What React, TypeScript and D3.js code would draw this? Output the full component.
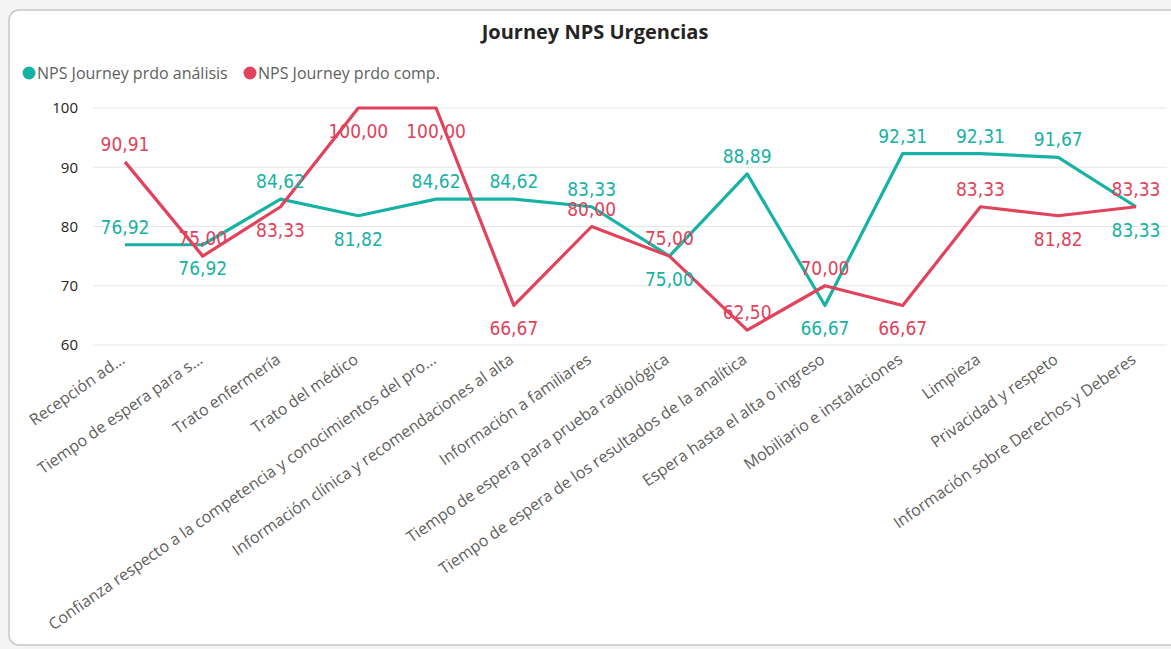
import React from 'react';
import * as d3 from 'd3';

// categories (x axis) as shown in the visual
const categories = [
  'Recepción ad...',
  'Tiempo de espera para s...',
  'Trato enfermería',
  'Trato del médico',
  'Confianza respecto a la competencia y conocimientos del pro...',
  'Información clínica y recomendaciones al alta',
  'Información a familiares',
  'Tiempo de espera para prueba radiológica',
  'Tiempo de espera de los resultados de la analítica',
  'Espera hasta el alta o ingreso',
  'Mobiliario e instalaciones',
  'Limpieza',
  'Privacidad y respeto',
  'Información sobre Derechos y Deberes',
];

const npsAnalisis = [76.92, 76.92, 84.62, 81.82, 84.62, 84.62, 83.33, 75.0, 88.89, 66.67, 92.31, 92.31, 91.67, 83.33];
const npsComp = [90.91, 75.0, 83.33, 100.0, 100.0, 66.67, 80.0, 75.0, 62.5, 70.0, 66.67, 83.33, 81.82, 83.33];

// where power bi put each data label (a = above, b = below)
const analisisLabelSide = ['a', 'b', 'a', 'b', 'a', 'a', 'a', 'b', 'a', 'b', 'a', 'a', 'a', 'b'];
const compLabelSide = ['a', 'a', 'b', 'b', 'b', 'b', 'a', 'a', 'a', 'a', 'b', 'a', 'b', 'a'];

const yTicks = [60, 70, 80, 90, 100];

const seriesNames = ['NPS Journey prdo análisis', 'NPS Journey prdo comp.'];
const TEAL = '#17B2A3';
const RED = '#E0435B';

const W = 1171;
const H = 649;

const fmt = (v: number) => v.toFixed(2).replace('.', ',');

export default function App() {
  const x = d3.scalePoint<string>().domain(categories).range([125, 1136]);
  const y = d3.scaleLinear().domain([60, 100]).range([345, 108]);

  const line = d3
    .line<number>()
    .x((_, i) => x(categories[i]) as number)
    .y(d => y(d));

  const series = [
    { name: seriesNames[0], values: npsAnalisis, sides: analisisLabelSide, color: TEAL },
    { name: seriesNames[1], values: npsComp, sides: compLabelSide, color: RED },
  ];

  const labelFont = '"DejaVu Sans Condensed", "DejaVu Sans", sans-serif';
  const uiFont = '"Segoe UI", "Open Sans", sans-serif';

  return (
    <svg width={W} height={H} style={{ position: 'absolute', left: 0, top: 0 }}>
      <rect x={0} y={0} width={W} height={H} fill="#f4f4f4" />
      <rect x={9} y={10} width={W + 20} height={635} rx={10} fill="#fff" stroke="#c6c6c6" strokeWidth={1.5} />

      <text x={595} y={39} textAnchor="middle" fontFamily={uiFont} fontWeight={700} fontSize={20} fill="#252423">
        Journey NPS Urgencias
      </text>

      {/* legend */}
      <g fontFamily={uiFont} fontSize={16} fill="#605E5C">
        <circle cx={29} cy={73} r={6.5} fill={TEAL} />
        <text x={37} y={79}>{seriesNames[0]}</text>
        <circle cx={250} cy={73} r={6.5} fill={RED} />
        <text x={258} y={79}>{seriesNames[1]}</text>
      </g>

      {/* y grid + ticks */}
      <g>
        {yTicks.map(t => (
          <g key={t}>
            <line x1={93} x2={1167} y1={y(t)} y2={y(t)} stroke="#e6e6e6" strokeWidth={1} />
            <text x={78} y={y(t)} dy="0.35em" textAnchor="end" fontFamily={uiFont} fontSize={15} fill="#252423">
              {t}
            </text>
          </g>
        ))}
      </g>

      {/* x labels */}
      <g fontFamily={uiFont} fontSize={16} fill="#605E5C">
        {categories.map(c => (
          <text key={c} transform={`translate(${(x(c) as number) + 1},${362}) rotate(-35)`} textAnchor="end">
            {c}
          </text>
        ))}
      </g>

      {/* lines */}
      {series.map(s => (
        <path key={s.name} d={line(s.values) || ''} fill="none" stroke={s.color} strokeWidth={3.2} strokeLinejoin="round" />
      ))}

      {/* data labels */}
      {series.map(s => (
        <g key={s.name + '-lbl'} fontFamily={labelFont} fontSize={19} fill={s.color}>
          {s.values.map((v, i) => (
            <text
              key={i}
              x={x(categories[i]) as number}
              y={y(v) + (s.sides[i] === 'a' ? -11 : 30)}
              textAnchor="middle"
            >
              {fmt(v)}
            </text>
          ))}
        </g>
      ))}
    </svg>
  );
}
